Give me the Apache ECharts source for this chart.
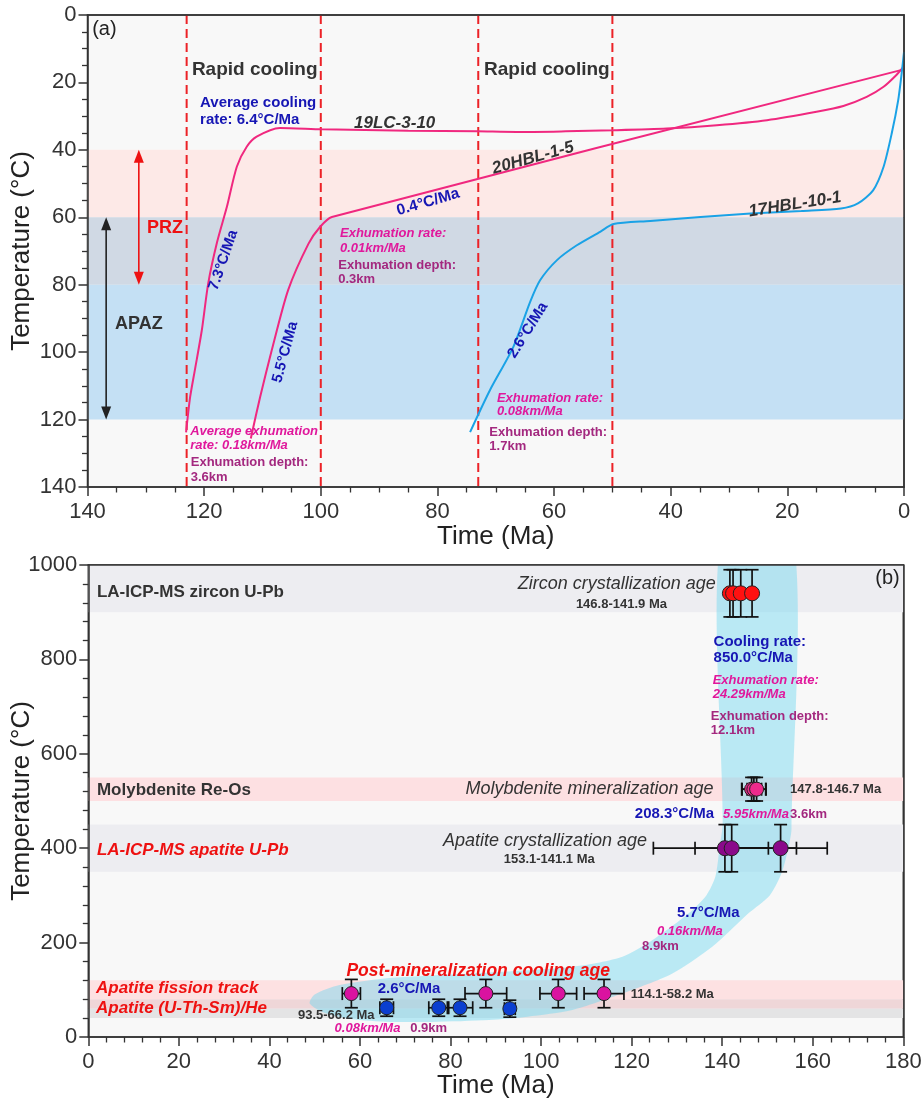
<!DOCTYPE html>
<html><head><meta charset="utf-8">
<script src="https://cdn.jsdelivr.net/npm/echarts@6/dist/echarts.min.js"></script>
<style>html,body{margin:0;padding:0;background:#fff}#c{width:923px;height:1106px}</style>
</head><body><div id="c"></div>
<script>
// ---------- DATA (panel a: thermal histories, [time Ma, temperature °C]) ----------
const cooling19LC = [[123.1,123.8],[122.4,113.3],[121.6,105.4],[120.4,93.5],[119.3,79.6],[117.8,67.5],[116.1,56.9],[114.4,45.0],[112.7,39.1],[111.0,36.1],[107.0,33.5],[99.8,33.9],[85,34.3],[73.1,34.5],[66.4,34.7],[58,34.5],[49.8,34.2],[40.7,33.7],[32.1,32.7],[23.5,31.2],[15.0,28.7],[10.4,27.0],[6.4,24.3],[3.5,21.3],[1.3,17.8],[0.1,15.4]];
const cooling20HBL = [[112.0,125.6],[110.4,113.3],[108.4,99.4],[105.6,81.6],[102.1,67.8],[100.1,62.8],[98.1,59.9],[0.2,16.2]];
const cooling17HBL = [[74.4,123.7],[71.0,111.3],[67.0,98.5],[64.1,85.1],[62.4,78.7],[59.5,72.7],[56.1,68.3],[52.1,64.3],[49.8,62.0],[43.5,61.1],[34.9,59.9],[26.3,58.9],[17.6,58.1],[10.8,57.4],[7.9,55.9],[5.3,52.0],[3.5,45.0],[2.1,35.1],[1.0,25.3],[0.4,17.3],[0,11]];
const rapidCoolingBounds = [123, 100, 73, 50];
const przRange = [40, 80];
const apazRange = [60, 120];
// ---------- DATA (panel b: ages, [age Ma, temperature °C, ±age, ±temperature]) ----------
const zirconUPb = [[141.7,940,0,50],[142.4,940,0,50],[144.1,940,0,50],[146.6,940,0,50]];
const molybdeniteReOs = [[146.5,525,2.2,25],[147.0,525,2.6,25],[147.6,525,2.1,25]];
const apatiteUPb = [[140.6,400,15.8,50],[142.1,400,8.1,50],[152.9,400,10.3,50]];
const apatiteFT = [[58.1,92,2.0,30],[87.8,92,4.6,30],[103.8,92,4.05,30],[113.9,92,4.4,30]];
const apatiteHe = [[65.9,62,1.5,18],[77.4,62,2.2,18],[82.1,62,2.8,18],[93.1,60,1.2,18]];
const zirconBand = [900, 1000];
const molybdeniteBand = [500, 550];
const apatiteUPbBand = [350, 450];
const aftBand = [60, 120];
const aheBand = [40, 80];
const coolingEnvelope = [[140.1,1080],[155.3,1080],[155.3,440],[154.6,400],[153.1,347],[150.5,300],[145.8,262],[137.8,191],[128.9,134],[117.9,92],[106.9,57],[97,43],[88.5,36],[76,32],[66.5,32],[58,38],[52,52],[48.9,71],[50,90],[55.5,110],[66.5,125],[81.2,133],[95.9,141],[106,148],[113,158],[118.5,172],[125.3,210],[132.6,262],[136.5,300],[138.5,340],[139.4,400],[140.1,450]];

// ---------- STYLE ----------
const FF = '"Liberation Sans", Arial, sans-serif';
const DARK = '#333', BLUE = '#1616b4', MAG = '#e0189c', PUR = '#a3287f', RED = '#ee1111';
const PINK_LINE = '#f0287f', BLUE_LINE = '#1aa2e6';

const topNotes = [
 {t:'(a)', x:139.2, y:4.2, s:20, c:'#222'},
 {t:'Rapid cooling', x:122.1, y:16.3, s:19, w:'bold', c:DARK},
 {t:'Rapid cooling', x:72.0, y:16.3, s:19, w:'bold', c:DARK},
 {t:'Average cooling', x:120.7, y:26.2, s:15, w:'bold', c:BLUE},
 {t:'rate: 6.4°C/Ma', x:120.7, y:31.0, s:15, w:'bold', c:BLUE},
 {t:'19LC-3-10', x:94.3, y:32.0, s:17, w:'bold', i:'italic', c:DARK},
 {t:'20HBL-1-5', x:63.6, y:42.4, s:17, w:'bold', i:'italic', c:DARK, a:'center', r:15.6},
 {t:'0.4°C/Ma', x:81.6, y:55.5, s:15.5, w:'bold', c:BLUE, a:'center', r:16.2},
 {t:'17HBL-10-1', x:18.7, y:56.2, s:17, w:'bold', i:'italic', c:DARK, a:'center', r:9},
 {t:'PRZ', x:126.7, y:63.2, s:18, w:'bold', c:RED, a:'center'},
 {t:'APAZ', x:131.2, y:91.7, s:18, w:'bold', c:DARK, a:'center'},
 {t:'7.3°C/Ma', x:116.7, y:72.7, s:15, w:'bold', c:BLUE, a:'center', r:71},
 {t:'5.5°C/Ma', x:106.1, y:100, s:15, w:'bold', c:BLUE, a:'center', r:75},
 {t:'2.6°C/Ma', x:64.5, y:93.5, s:15, w:'bold', c:BLUE, a:'center', r:58},
 {t:'Exhumation rate:', x:96.7, y:64.8, s:13, w:'bold', i:'italic', c:MAG},
 {t:'0.01km/Ma', x:96.7, y:69.2, s:13, w:'bold', i:'italic', c:MAG},
 {t:'Exhumation depth:', x:97.0, y:74.2, s:13, w:'bold', c:PUR},
 {t:'0.3km', x:97.0, y:78.4, s:13, w:'bold', c:PUR},
 {t:'Average exhumation', x:122.4, y:123.4, s:13, w:'bold', i:'italic', c:MAG},
 {t:'rate: 0.18km/Ma', x:122.4, y:127.6, s:13, w:'bold', i:'italic', c:MAG},
 {t:'Exhumation depth:', x:122.3, y:132.8, s:13, w:'bold', c:PUR},
 {t:'3.6km', x:122.3, y:137.1, s:13, w:'bold', c:PUR},
 {t:'Exhumation rate:', x:69.8, y:113.6, s:13, w:'bold', i:'italic', c:MAG},
 {t:'0.08km/Ma', x:69.8, y:117.7, s:13, w:'bold', i:'italic', c:MAG},
 {t:'Exhumation depth:', x:71.1, y:123.8, s:13, w:'bold', c:PUR},
 {t:'1.7km', x:71.1, y:128.1, s:13, w:'bold', c:PUR}
];
const bottomNotes = [
 {t:'LA-ICP-MS zircon U-Pb', x:1.9, y:942, s:17, w:'bold', c:DARK},
 {t:'Molybdenite Re-Os', x:1.9, y:523, s:17, w:'bold', c:DARK},
 {t:'LA-ICP-MS apatite U-Pb', x:1.9, y:396, s:17, w:'bold', i:'italic', c:RED},
 {t:'Zircon crystallization age', x:138.6, y:959, s:18, i:'italic', c:DARK, a:'right'},
 {t:'146.8-141.9 Ma', x:127.8, y:917, s:13, w:'bold', c:DARK, a:'right'},
 {t:'(b)', x:173.8, y:972, s:20, c:'#222'},
 {t:'Cooling rate:', x:138.1, y:837, s:15, w:'bold', c:BLUE},
 {t:'850.0°C/Ma', x:138.1, y:803.5, s:15, w:'bold', c:BLUE},
 {t:'Exhumation rate:', x:137.9, y:756, s:13, w:'bold', i:'italic', c:MAG},
 {t:'24.29km/Ma', x:137.9, y:726, s:13, w:'bold', i:'italic', c:MAG},
 {t:'Exhumation depth:', x:137.5, y:680, s:13, w:'bold', c:PUR},
 {t:'12.1km', x:137.5, y:650, s:13, w:'bold', c:PUR},
 {t:'Molybdenite mineralization age', x:138.1, y:525, s:18, i:'italic', c:DARK, a:'right'},
 {t:'147.8-146.7 Ma', x:155.0, y:525, s:13, w:'bold', c:DARK},
 {t:'208.3°C/Ma', x:120.7, y:472, s:15, w:'bold', c:BLUE},
 {t:'5.95km/Ma', x:140.2, y:472, s:13, w:'bold', i:'italic', c:MAG},
 {t:'3.6km', x:155.0, y:472, s:13, w:'bold', c:PUR},
 {t:'Apatite crystallization age', x:123.4, y:415, s:18, i:'italic', c:DARK, a:'right'},
 {t:'153.1-141.1 Ma', x:101.8, y:376, s:13, w:'bold', c:DARK, a:'center'},
 {t:'5.7°C/Ma', x:130.0, y:262, s:15, w:'bold', c:BLUE},
 {t:'0.16km/Ma', x:125.6, y:223, s:13, w:'bold', i:'italic', c:MAG},
 {t:'8.9km', x:122.3, y:191, s:13, w:'bold', c:PUR},
 {t:'Post-mineralization cooling age', x:57.0, y:140, s:17.5, w:'bold', i:'italic', c:RED},
 {t:'Apatite fission track', x:1.7, y:103, s:17, w:'bold', i:'italic', c:RED},
 {t:'Apatite (U-Th-Sm)/He', x:1.7, y:60, s:17, w:'bold', i:'italic', c:RED},
 {t:'2.6°C/Ma', x:63.9, y:103, s:15, w:'bold', c:BLUE},
 {t:'93.5-66.2 Ma', x:46.3, y:46, s:13, w:'bold', c:DARK},
 {t:'0.08km/Ma', x:54.4, y:19, s:13, w:'bold', i:'italic', c:MAG},
 {t:'0.9km', x:71.1, y:19, s:13, w:'bold', c:PUR},
 {t:'114.1-58.2 Ma', x:119.8, y:90, s:13, w:'bold', c:DARK}
];
const zoneArrows = [
 {x:131.2, from:przRange[0], to:przRange[1], c:RED},
 {x:136.8, from:apazRange[0], to:apazRange[1], c:'#222'}
];

// ---------- helpers ----------
function notesSeries(gi, notes){
  return {type:'custom', xAxisIndex:gi*2, yAxisIndex:gi*2, z:8, silent:true,
    data: notes.map(n=>[n.x,n.y]),
    renderItem:(params, api)=>{
      const n = notes[params.dataIndex];
      const p = api.coord([api.value(0), api.value(1)]);
      const font = (n.i||'normal')+' '+(n.w||'normal')+' '+n.s+'px '+FF;
      const al = n.a||'left';
      return {type:'text', x:p[0], y:p[1], rotation:(n.r||0)*Math.PI/180,
        style:{text:n.t, x:0, y:0, fill:n.c, font:font, textAlign:al, textVerticalAlign:'middle'}};
    }};
}
function bandSeries(gi, bands){
  return {type:'custom', xAxisIndex:gi*2, yAxisIndex:gi*2, z:1, silent:true, clip:true,
    data: bands.map(b=>[b.r[0], b.r[1]]),
    renderItem:(params, api)=>{
      const cs = params.coordSys;
      const a = api.coord([0, api.value(0)]), b = api.coord([0, api.value(1)]);
      const y0 = Math.min(a[1], b[1]), y1 = Math.max(a[1], b[1]);
      return {type:'rect', shape:{x:cs.x, y:y0, width:cs.width, height:y1-y0},
        style:{fill:bands[params.dataIndex].c}};
    }};
}
function errSeries(data){
  return {type:'custom', xAxisIndex:2, yAxisIndex:2, z:5, silent:true,
    data:data,
    renderItem:(params, api)=>{
      const x=api.value(0), y=api.value(1), ex=api.value(2), ey=api.value(3);
      const c = api.coord([x,y]);
      const st = {stroke:'#111', lineWidth:1.7};
      const ch = [], k = 6.5;
      if (ex > 0) {
        const l = api.coord([x-ex,y]), r = api.coord([x+ex,y]);
        ch.push({type:'line', shape:{x1:l[0],y1:c[1],x2:r[0],y2:c[1]}, style:st});
        ch.push({type:'line', shape:{x1:l[0],y1:c[1]-k,x2:l[0],y2:c[1]+k}, style:st});
        ch.push({type:'line', shape:{x1:r[0],y1:c[1]-k,x2:r[0],y2:c[1]+k}, style:st});
      }
      if (ey > 0) {
        const t = api.coord([x,y+ey]), b = api.coord([x,y-ey]);
        ch.push({type:'line', shape:{x1:c[0],y1:t[1],x2:c[0],y2:b[1]}, style:st});
        ch.push({type:'line', shape:{x1:c[0]-k,y1:t[1],x2:c[0]+k,y2:t[1]}, style:st});
        ch.push({type:'line', shape:{x1:c[0]-k,y1:b[1],x2:c[0]+k,y2:b[1]}, style:st});
      }
      return {type:'group', children:ch};
    }};
}
function pointSeries(data, color, size){
  return {type:'scatter', xAxisIndex:2, yAxisIndex:2, z:6, silent:true,
    data:data.map(d=>[d[0],d[1]]), symbol:'circle', symbolSize:size,
    itemStyle:{color:color, borderColor:'#222', borderWidth:1, opacity:1}};
}
function curve(data, color){
  return {type:'line', xAxisIndex:0, yAxisIndex:0, z:4, silent:true, data:data,
    showSymbol:false, smooth:0.25, lineStyle:{color:color, width:2}};
}
const axisCommon = {
  z:10,
  axisLine:{show:true, onZero:false, lineStyle:{color:'#333', width:1.5}},
  axisTick:{show:true, length:9, lineStyle:{color:'#333', width:1.5}},
  minorTick:{show:true, length:5.5, lineStyle:{color:'#333', width:1.3}},
  axisLabel:{fontSize:22, color:'#333', fontFamily:FF, formatter:v=>String(v)},
  splitLine:{show:false}, minorSplitLine:{show:false},
  nameLocation:'middle', nameMoveOverlap:false, nameTextStyle:{fontSize:26, color:'#222', fontFamily:FF}
};
function frameAxis(gi, pos, min, max, inverse){
  return {type:'value', gridIndex:gi, position:pos, min:min, max:max, inverse:inverse, z:10,
    axisLine:{show:true, onZero:false, lineStyle:{color:'#333', width:1.5}},
    axisTick:{show:false}, axisLabel:{show:false}, splitLine:{show:false}};
}

const topBands = [
  {r:[przRange[0], apazRange[0]], c:'#fde9e7'},
  {r:[apazRange[0], przRange[1]], c:'#d0d9e4'},
  {r:[przRange[1], apazRange[1]], c:'#c4e0f4'}
];
const bottomBands = [
  {r:zirconBand, c:'#ededf1'},
  {r:molybdeniteBand, c:'#fde0e2'},
  {r:apatiteUPbBand, c:'#ededf1'},
  {r:[aheBand[1], aftBand[1]], c:'#fde1e2'},
  {r:[aftBand[0], aheBand[1]], c:'#efd6d8'},
  {r:[aheBand[0], aftBand[0]], c:'#e4e4e5'}
];

const chart = echarts.init(document.getElementById('c'), null, {renderer:'canvas'});
const series = [];
series.push(bandSeries(0, topBands));
series.push(bandSeries(1, bottomBands));
rapidCoolingBounds.forEach(b => series.push({type:'line', xAxisIndex:0, yAxisIndex:0, z:3, silent:true,
  data:[[b,0],[b,140]], showSymbol:false, lineStyle:{color:'#ec2227', width:2, type:[9,5]}}));
series.push(curve(cooling19LC, PINK_LINE));
series.push(curve(cooling20HBL, PINK_LINE));
series.push(curve(cooling17HBL, BLUE_LINE));
series.push({type:'custom', xAxisIndex:0, yAxisIndex:0, z:7, silent:true,
  data: zoneArrows.map(a=>[a.x, a.from, a.to]),
  renderItem:(params, api)=>{
    const a = zoneArrows[params.dataIndex];
    const p0 = api.coord([api.value(0), api.value(1)]), p1 = api.coord([api.value(0), api.value(2)]);
    const h = 13, w = 5;
    return {type:'group', children:[
      {type:'line', shape:{x1:p0[0], y1:p0[1]+h-2, x2:p1[0], y2:p1[1]-h+2}, style:{stroke:a.c, lineWidth:1.6}},
      {type:'polygon', shape:{points:[[p0[0],p0[1]],[p0[0]-w,p0[1]+h],[p0[0]+w,p0[1]+h]]}, style:{fill:a.c}},
      {type:'polygon', shape:{points:[[p1[0],p1[1]],[p1[0]-w,p1[1]-h],[p1[0]+w,p1[1]-h]]}, style:{fill:a.c}}
    ]};
  }});
series.push({type:'custom', xAxisIndex:2, yAxisIndex:2, z:2, silent:true, clip:true, data:[[0,0]],
  renderItem:(params, api)=>({type:'polygon',
    shape:{points:coolingEnvelope.map(p=>api.coord(p)), smooth:0.25},
    style:{fill:'rgba(110,214,240,0.45)'}})});
[zirconUPb, molybdeniteReOs, apatiteUPb, apatiteFT, apatiteHe].forEach(d => series.push(errSeries(d)));
series.push(pointSeries(zirconUPb, '#ff1111', 15));
series.push(pointSeries(molybdeniteReOs, '#ee2a8c', 14));
series.push(pointSeries(apatiteUPb, '#8a0a8a', 15));
series.push(pointSeries(apatiteFT, '#da13a0', 14));
series.push(pointSeries(apatiteHe, '#0b3fd0', 14));
series.push(notesSeries(0, topNotes));
series.push(notesSeries(1, bottomNotes));

chart.setOption({
  animation:false,
  backgroundColor:'#fff',
  grid:[
    {left:87.5, top:15, width:816.5, height:472, containLabel:false, outerBoundsMode:'none', show:true, backgroundColor:'#f8f8f8', borderColor:'#333', borderWidth:1.5},
    {left:88.3, top:565, width:815, height:472, containLabel:false, outerBoundsMode:'none', show:true, backgroundColor:'#f8f8f8', borderColor:'#333', borderWidth:1.5}
  ],
  xAxis:[
    Object.assign({}, axisCommon, {type:'value', gridIndex:0, position:'bottom', min:0, max:140, interval:20, inverse:true,
      minorTick:Object.assign({}, axisCommon.minorTick, {splitNumber:4}),
      axisLabel:Object.assign({}, axisCommon.axisLabel, {margin:14}),
      name:'Time (Ma)', nameGap:37}),
    frameAxis(0, 'top', 0, 140, true),
    Object.assign({}, axisCommon, {type:'value', gridIndex:1, position:'bottom', min:0, max:180, interval:20,
      minorTick:Object.assign({}, axisCommon.minorTick, {splitNumber:5}),
      axisLabel:Object.assign({}, axisCommon.axisLabel, {margin:14}),
      name:'Time (Ma)', nameGap:36}),
    frameAxis(1, 'top', 0, 180, false)
  ],
  yAxis:[
    Object.assign({}, axisCommon, {type:'value', gridIndex:0, position:'left', min:0, max:140, interval:20, inverse:true,
      minorTick:Object.assign({}, axisCommon.minorTick, {splitNumber:4}),
      axisLabel:Object.assign({}, axisCommon.axisLabel, {margin:11}),
      name:'Temperature (°C)', nameGap:53, nameRotate:90}),
    frameAxis(0, 'right', 0, 140, true),
    Object.assign({}, axisCommon, {type:'value', gridIndex:1, position:'left', min:0, max:1000, interval:200,
      minorTick:Object.assign({}, axisCommon.minorTick, {splitNumber:5}),
      axisLabel:Object.assign({}, axisCommon.axisLabel, {margin:11}),
      name:'Temperature (°C)', nameGap:53, nameRotate:90}),
    frameAxis(1, 'right', 0, 1000, false)
  ],
  series:series
});
</script>
</body></html>
